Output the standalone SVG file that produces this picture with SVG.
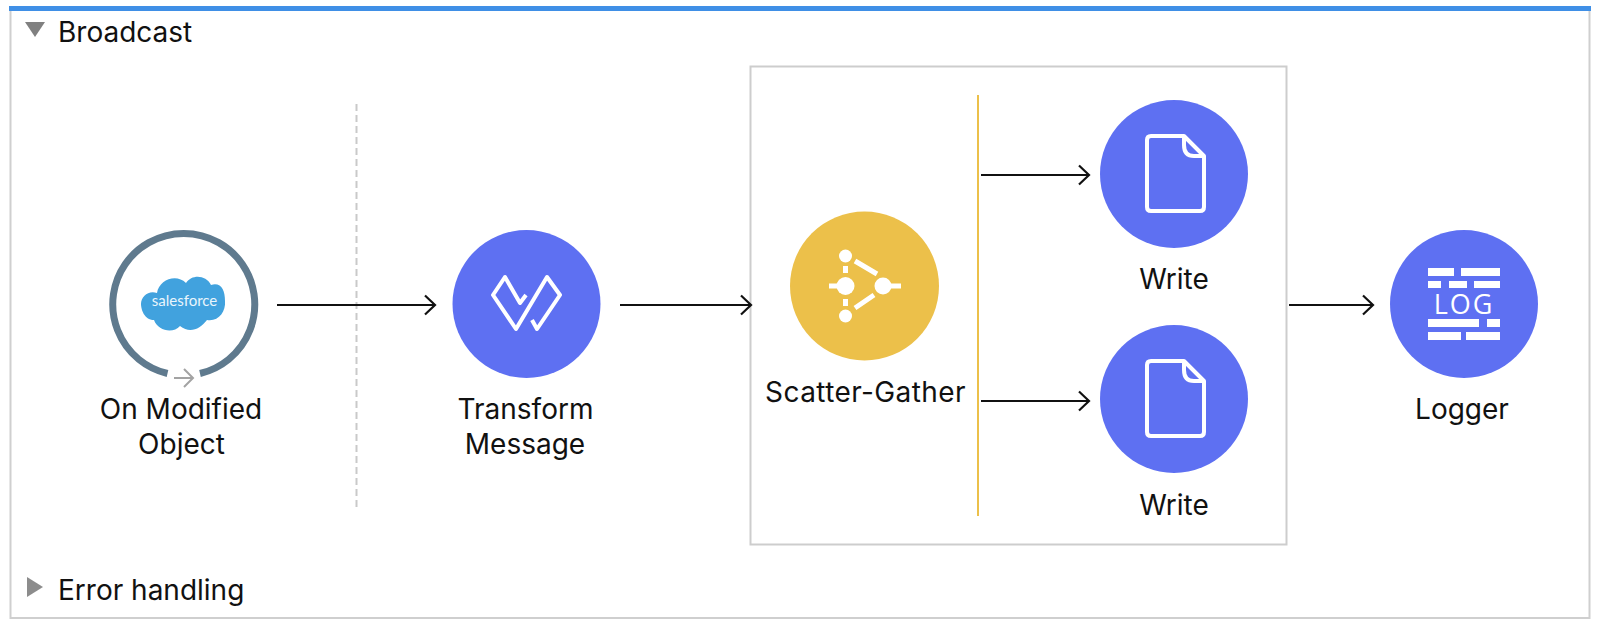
<svg xmlns="http://www.w3.org/2000/svg" width="1600" height="621" viewBox="0 0 1600 621">
  <style>
    .label { font-family: "Inter", "Liberation Sans", sans-serif; font-size: 28px; fill: #111; }
    .mid { text-anchor: middle; }
    .blue { fill: #5e70f2; }
    .glyph { fill: none; stroke: #fff; stroke-width: 4; stroke-linejoin: round; }
    .wire { fill: none; stroke: #111; stroke-width: 2.2; marker-end: url(#head); }
    .bar { fill: #fff; }
  </style>
  <defs>
    <marker id="head" markerUnits="userSpaceOnUse" markerWidth="16" markerHeight="24" refX="14" refY="12" orient="auto">
      <path d="M4 2.5 L14 12 L4 21.5" fill="none" stroke="#111" stroke-width="2.2"/>
    </marker>
    <g id="file-icon">
      <path class="glyph" d="M-22 -38 H11 L31 -18 V33 Q31 37 27 37 H-22 Q-26 37 -26 33 V-34 Q-26 -38 -22 -38 Z"/>
      <path class="glyph" stroke-width="3" d="M11 -38 V-29 Q11 -18 21 -18 H31"/>
    </g>
  </defs>

  <rect width="1600" height="621" fill="#fff"/>

  <!-- flow frame -->
  <g id="frame">
    <rect x="10.5" y="8" width="1579" height="610" fill="none" stroke="#cfcfcf" stroke-width="2"/>
    <rect x="9" y="6" width="1582" height="5" fill="#3f8fe6"/>
    <path d="M25 22 H45 L35 37 Z" fill="#808080"/>
    <text class="label" x="58" y="42">Broadcast</text>
    <path d="M27 577 L43 587 L27 597 Z" fill="#8c8c8c"/>
    <text class="label" x="58" y="600">Error handling</text>
  </g>

  <!-- scatter-gather scope -->
  <g id="scope">
    <rect x="750.5" y="66.5" width="536" height="478" fill="none" stroke="#cdcdcd" stroke-width="2"/>
    <line x1="978" y1="95" x2="978" y2="516" stroke="#ecc04a" stroke-width="2"/>
  </g>

  <!-- source / process divider -->
  <line id="divider" x1="356.5" y1="104" x2="356.5" y2="509" stroke="#c9c9c9" stroke-width="2" stroke-dasharray="7 4"/>

  <g id="connectors">
    <line class="wire" x1="277" y1="305" x2="435" y2="305"/>
    <line class="wire" x1="620" y1="305" x2="751" y2="305"/>
    <line class="wire" x1="981" y1="175" x2="1089" y2="175"/>
    <line class="wire" x1="981" y1="401" x2="1089" y2="401"/>
    <line class="wire" x1="1289" y1="305" x2="1373" y2="305"/>
  </g>

  <g id="on-modified-object">
    <path d="M167.5 373.5 A71 71 0 1 1 200 373.5" fill="none" stroke="#5f7a8e" stroke-width="7"/>
    <path d="M174 378 H192 M184 369 L193 378 L184 387" fill="none" stroke="#a3a3a3" stroke-width="2"/>
    <path fill="#41a2de" d="M157 293 C159 280 176 273 186 283 C192 274 206 275 211 285 C221 282 225 290 225 301 C226 312 218 322 207 320 C200 329 190 334 180 326 C173 334 158 331 154 320 C144 320 141 309 141 304 C141 296 149 290 157 293 Z"/>
    <text x="184.5" y="306" text-anchor="middle" font-family="Lato, 'Liberation Sans', sans-serif" font-size="15" fill="#eaf5fc">salesforce</text>
    <text class="label mid" x="181" y="419">On Modified</text>
    <text class="label mid" x="181.5" y="454">Object</text>
  </g>

  <g id="transform-message">
    <circle class="blue" cx="526.5" cy="304" r="74"/>
    <path class="glyph" stroke-linejoin="miter" d="M526 295 L520 303 L505 277 L493 295 L516 329 L547 277 L560 295 L537 329 L532 320"/>
    <text class="label mid" x="525.5" y="419">Transform</text>
    <text class="label mid" x="525" y="454">Message</text>
  </g>

  <g id="scatter-gather">
    <circle cx="864.5" cy="286" r="74.5" fill="#ecc04a"/>
    <g fill="#fff">
      <circle cx="845.5" cy="256" r="6.5"/>
      <circle cx="845.5" cy="286" r="9"/>
      <circle cx="845.5" cy="316" r="6.5"/>
      <circle cx="883" cy="286" r="8.5"/>
      <rect x="829" y="283.5" width="10" height="5"/>
      <rect x="890" y="283.5" width="11" height="5"/>
      <rect x="843" y="266" width="5" height="7"/>
      <rect x="843" y="299" width="5" height="7"/>
    </g>
    <path d="M855 261 L877 274 M855 308 L874 295" fill="none" stroke="#fff" stroke-width="5"/>
    <text class="label mid" x="865.5" y="402" letter-spacing="0.4">Scatter-Gather</text>
  </g>

  <g id="write-1">
    <circle class="blue" cx="1174" cy="174" r="74"/>
    <use href="#file-icon" x="1173" y="174"/>
    <text class="label mid" x="1174" y="289">Write</text>
  </g>

  <g id="write-2">
    <circle class="blue" cx="1174" cy="399" r="74"/>
    <use href="#file-icon" x="1173" y="399"/>
    <text class="label mid" x="1174" y="515">Write</text>
  </g>

  <g id="logger">
    <circle class="blue" cx="1464" cy="304" r="74"/>
    <g class="bar">
      <rect x="1428" y="268" width="26" height="8"/>
      <rect x="1461" y="268" width="39" height="8"/>
      <rect x="1428" y="281" width="13" height="7"/>
      <rect x="1449" y="281" width="18" height="7"/>
      <rect x="1474" y="281" width="26" height="7"/>
      <rect x="1428" y="319" width="51" height="8"/>
      <rect x="1487" y="319" width="13" height="8"/>
      <rect x="1428" y="332" width="33" height="8"/>
      <rect x="1466" y="332" width="34" height="8"/>
    </g>
    <text x="1464" y="314" text-anchor="middle" font-family="'Open Sans', 'Liberation Sans', sans-serif" font-size="27" letter-spacing="2" fill="#fff">LOG</text>
    <text class="label mid" x="1462" y="419">Logger</text>
  </g>
</svg>
